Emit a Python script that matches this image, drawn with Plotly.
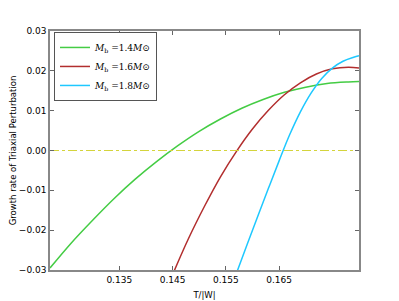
import plotly.graph_objects as go

x_green = [0.122, 0.126, 0.130, 0.134, 0.138, 0.142, 0.146, 0.150, 0.154, 0.158, 0.162, 0.166, 0.170, 0.174, 0.178, 0.180]
y_green = [-0.0295, -0.0232, -0.0175, -0.0121, -0.0072, -0.0028, 0.0012, 0.0048, 0.0079, 0.0106, 0.0128, 0.0146, 0.0159, 0.0168, 0.0172, 0.0173]

x_red = [0.145, 0.148, 0.151, 0.154, 0.157, 0.160, 0.163, 0.166, 0.169, 0.172, 0.175, 0.178, 0.180]
y_red = [-0.0312, -0.0221, -0.0140, -0.0066, -0.0002, 0.0054, 0.0101, 0.0140, 0.0170, 0.0192, 0.0205, 0.0209, 0.0207]

x_blue = [0.157, 0.159, 0.161, 0.163, 0.165, 0.167, 0.169, 0.171, 0.173, 0.175, 0.177, 0.179, 0.180]
y_blue = [-0.0308, -0.0236, -0.0165, -0.0095, -0.0026, 0.0040, 0.0097, 0.0144, 0.0181, 0.0207, 0.0224, 0.0234, 0.0238]

x_zero = [0.122, 0.180]
y_zero = [0.0, 0.0]

x_ticks = [0.135, 0.145, 0.155, 0.165]
y_ticks = [-0.03, -0.02, -0.01, 0.00, 0.01, 0.02, 0.03]

names = ["<i>M</i><sub>b</sub> =1.4<i>M</i>⊙", "<i>M</i><sub>b</sub> =1.6<i>M</i>⊙", "<i>M</i><sub>b</sub> =1.8<i>M</i>⊙"]
colors = ["#44cc44", "#b22e2e", "#1ec8ff"]

fig = go.Figure()
for xs, ys, nm, c in zip([x_green, x_red, x_blue], [y_green, y_red, y_blue], names, colors):
    fig.add_trace(go.Scatter(x=xs, y=ys, mode="lines", name=nm,
                             line=dict(color=c, width=1.5, shape="spline")))
fig.add_trace(go.Scatter(x=x_zero, y=y_zero, mode="lines", showlegend=False,
                         line=dict(color="#d4d43c", width=1, dash="dashdot")))

axis_common = dict(showline=True, linecolor="#888888", linewidth=1.5, mirror="ticks",
                   ticks="inside", ticklen=4, tickcolor="#666666", showgrid=False,
                   zeroline=False, automargin=False, tickfont=dict(size=9, color="#000000"))

fig.update_layout(
    width=399, height=301,
    margin=dict(l=42, r=48, t=23, b=39, autoexpand=False),
    plot_bgcolor="white", paper_bgcolor="white",
    font=dict(family="DejaVu Sans", size=8, color="#000000"),
    xaxis=dict(range=[0.122, 0.180], tickvals=x_ticks, tickformat=".3f",
               title=dict(text="T/|W|", font=dict(size=8.5), standoff=9), **axis_common),
    yaxis=dict(range=[-0.03, 0.03], tickvals=y_ticks, tickformat=".2f",
               title=dict(text="Growth rate of Triaxial Perturbation", font=dict(size=8.5), standoff=2),
               **axis_common),
    legend=dict(x=0.013, y=0.996, xanchor="left", yanchor="top", bgcolor="white",
                bordercolor="#555555", borderwidth=1,
                font=dict(size=9, family="DejaVu Serif"),
                tracegroupgap=0, itemwidth=30),
)

fig.write_html("out.html")
